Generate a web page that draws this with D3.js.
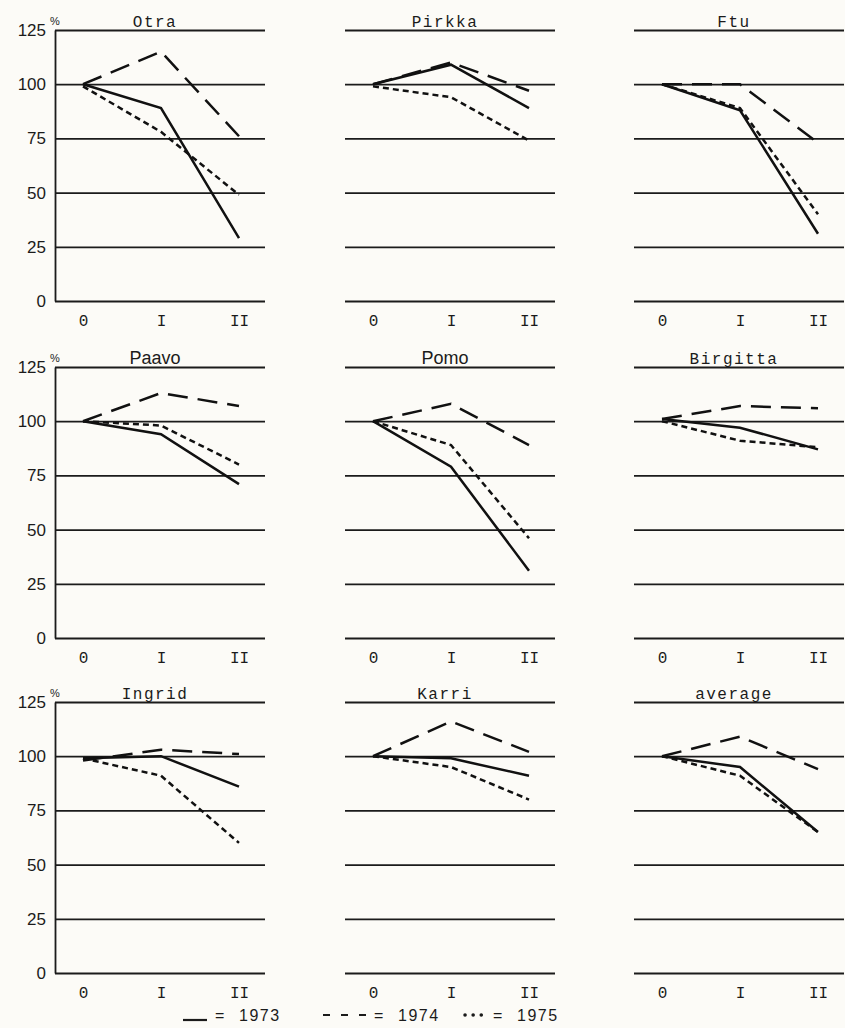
<!DOCTYPE html>
<html>
<head>
<meta charset="utf-8">
<script src="https://cdn.jsdelivr.net/npm/d3@7"></script>
<style>
  body { margin: 0; background: #fcfbf7; }
  svg { display: block; }
</style>
</head>
<body>
<div id="chart"></div>
<script>
// periods on the x axis, panels, series
var periods = ["0", "I", "II"];
var students = ["Otra", "Pirkka", "Ftu", "Paavo", "Pomo", "Birgitta", "Ingrid", "Karri", "average"];
var years = ["1973", "1974", "1975"];
var yTicks = [0, 25, 50, 75, 100, 125];

// % of starting level, one row per student (0, I, II)
var values1973 = [
    [100, 89, 29], [100, 109, 89], [100, 88, 31],
    [100, 94, 71], [100, 79, 31], [101, 97, 87],
    [99, 100, 86], [100, 99, 91], [100, 95, 65]
];
var values1974 = [
    [100, 115, 76], [100, 110, 97], [100, 100, 73],
    [100, 113, 107], [100, 108, 89], [101, 107, 106],
    [98, 103, 101], [100, 116, 102], [100, 109, 94]
];
var values1975 = [
    [99, 78, 49], [99, 94, 74], [100, 89, 40],
    [100, 98, 80], [100, 89, 46], [100, 91, 88],
    [99, 91, 60], [100, 95, 80], [100, 91, 65]
];

(() => {
    var W = 845, H = 1028;
    var colLeft = [55, 345, 634],
        rowTop = [30, 367, 702],
        pw = 210, ph = 271;

    var mono = "'Liberation Mono', 'DejaVu Sans Mono', monospace";
    var sans = "'Liberation Sans', Arial, sans-serif";
    var sansTitles = ["Paavo", "Pomo"];
    var ink = "#1b1b1b";

    var seriesVals = { "1973": values1973, "1974": values1974, "1975": values1975 };
    var dash = { "1973": null, "1974": "20,10", "1975": "6,4" };

    var svg = d3.select("#chart")
        .append("svg")
        .attr("width", W)
        .attr("height", H)
        .style("background", "#fcfbf7");

    var x = d3.scalePoint().domain(periods).range([28, 184]);
    var y = d3.scaleLinear().domain([0, 125]).range([ph, 0]);

    var line = d3.line()
        .x(function (d, i) { return x(periods[i]); })
        .y(function (d) { return y(d); });

    students.forEach(function (name, i) {
        var col = i % 3, row = Math.floor(i / 3);
        var g = svg.append("g")
            .attr("transform", "translate(" + colLeft[col] + "," + rowTop[row] + ")");

        // horizontal grid (and y labels in the first column)
        var yAxis = g.append("g")
            .call(d3.axisLeft(y)
                .tickValues(yTicks)
                .tickSize(-pw)
                .tickSizeOuter(0)
                .tickPadding(9)
                .tickFormat(col === 0 ? d3.format("d") : ""));
        yAxis.selectAll(".tick line")
            .attr("stroke", ink)
            .attr("stroke-width", 1.8);
        yAxis.selectAll("text")
            .attr("fill", ink)
            .style("font-family", sans)
            .style("font-size", "17px");
        if (col === 0) {
            yAxis.select(".domain").attr("stroke", ink).attr("stroke-width", 1.8);
            g.append("text")
                .attr("x", 0)
                .attr("y", -5)
                .attr("text-anchor", "middle")
                .style("font-family", sans)
                .style("font-size", "11px")
                .attr("fill", ink)
                .text("%");
        } else {
            yAxis.select(".domain").remove();
        }

        // period labels
        var xAxis = g.append("g")
            .attr("transform", "translate(0," + ph + ")")
            .call(d3.axisBottom(x).tickSize(0).tickPadding(14));
        xAxis.select(".domain").remove();
        xAxis.selectAll("text")
            .attr("fill", ink)
            .style("font-family", mono)
            .style("font-size", "16px");

        // panel title sitting on the top line
        var isSans = sansTitles.indexOf(name) >= 0;
        g.append("text")
            .attr("x", 100)
            .attr("y", -3)
            .attr("text-anchor", "middle")
            .attr("fill", ink)
            .style("font-family", isSans ? sans : mono)
            .style("font-size", isSans ? "18px" : "16px")
            .style("letter-spacing", isSans ? "0px" : "1.5px")
            .text(name);

        years.forEach(function (yr) {
            g.append("path")
                .datum(seriesVals[yr][i])
                .attr("d", line)
                .attr("fill", "none")
                .attr("stroke", "#111")
                .attr("stroke-width", 2.5)
                .attr("stroke-dasharray", dash[yr]);
        });
    });

    // legend at the bottom
    var lx = d3.scalePoint().domain(years).range([183, 463]);
    var symW = { "1973": 24, "1974": 43, "1975": 22 };
    var symDash = { "1973": null, "1974": "7,11", "1975": "0.1,8" };
    var symY = { "1973": 1020, "1974": 1015, "1975": 1015 };

    years.forEach(function (yr) {
        var x0 = lx(yr);
        svg.append("line")
            .attr("x1", x0 + (yr === "1975" ? 2 : 0))
            .attr("x2", x0 + symW[yr])
            .attr("y1", symY[yr])
            .attr("y2", symY[yr])
            .attr("stroke", ink)
            .attr("stroke-width", yr === "1975" ? 3.5 : 2.2)
            .attr("stroke-linecap", yr === "1975" ? "round" : "butt")
            .attr("stroke-dasharray", symDash[yr]);
        svg.append("text")
            .attr("x", x0 + symW[yr] + 8)
            .attr("y", 1021)
            .attr("fill", ink)
            .style("font-family", sans)
            .style("font-size", "16px")
            .text("=");
        svg.append("text")
            .attr("x", x0 + symW[yr] + 32)
            .attr("y", 1021)
            .attr("fill", ink)
            .style("font-family", sans)
            .style("font-size", "16px")
            .style("letter-spacing", "1.5px")
            .text(yr);
    });
})();
</script>
</body>
</html>
